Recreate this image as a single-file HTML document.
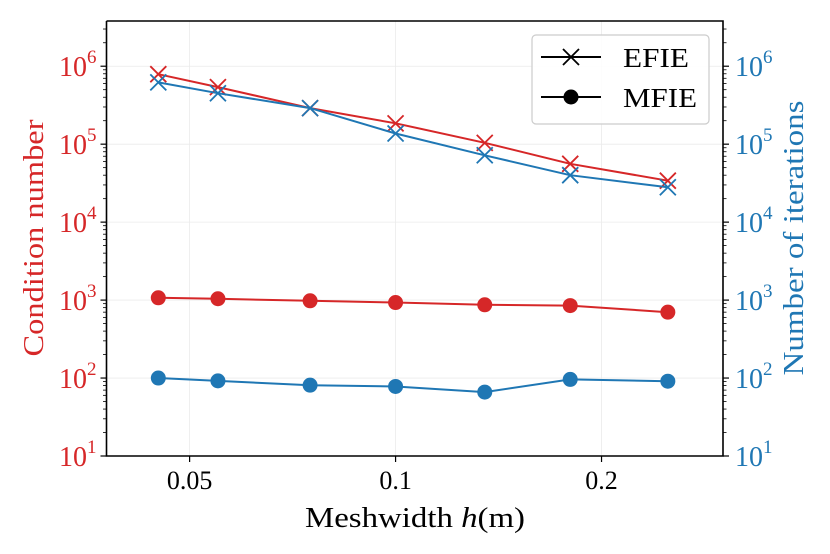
<!DOCTYPE html>
<html><head><meta charset="utf-8"><style>
html,body{margin:0;padding:0;background:#fff;}
svg{display:block;font-family:"Liberation Serif","DejaVu Serif",serif;}
</style></head><body>
<svg id="chart" width="830" height="554" viewBox="0 0 830 554" xmlns="http://www.w3.org/2000/svg"></svg>
<script>
const hValues = [0.045, 0.055, 0.075, 0.1, 0.135, 0.18, 0.25];
const condEFIE = [790000, 540000, 290000, 185000, 104000, 56000, 34000];
const iterEFIE = [620000, 450000, 290000, 137000, 72000, 40000, 28000];
const condMFIE = [1070, 1040, 980, 930, 870, 850, 700];
const iterMFIE = [100, 92, 81, 78, 66, 96, 91];
const xTicks = [0.05, 0.1, 0.2];
const xTickLabels = ["0.05", "0.1", "0.2"];
const yExps = [1, 2, 3, 4, 5, 6];

const L = 106.5, R = 723, T = 21, B = 456;
const xMin = Math.log10(0.0378), xMax = Math.log10(0.301);
const yMin = 1, yMax = 6.58;
const RED = "#d62728", BLUE = "#1f77b4";
function X(v){ return L + (Math.log10(v) - xMin) / (xMax - xMin) * (R - L); }
function Y(v){ return B - (Math.log10(v) - yMin) / (yMax - yMin) * (B - T); }
const svg = document.getElementById('chart');
const NS = "http://www.w3.org/2000/svg";
function mk(tag, attrs, parent){
  const e = document.createElementNS(NS, tag);
  for (const k in attrs) e.setAttribute(k, attrs[k]);
  (parent || svg).appendChild(e);
  return e;
}
xTicks.forEach(t => {
  const g = mk('line', {x1:X(t), x2:X(t), y1:T, y2:B, stroke:'#ebebeb', 'stroke-width':0.8});
  
  
});
yExps.forEach(e => {
  const g = mk('line', {x1:L, x2:R, y1:Y(Math.pow(10,e)), y2:Y(Math.pow(10,e)), stroke:'#ebebeb', 'stroke-width':0.8});
  
  
});
function series(vals, color, marker, name){
  const pts = hValues.map((h,i) => X(h).toFixed(1) + ',' + Y(vals[i]).toFixed(1)).join(' ');
  const pl = mk('polyline', {points:pts, fill:'none', stroke:color, 'stroke-width':2});
  
  
  hValues.forEach((h,i) => {
    const cx = X(h), cy = Y(vals[i]);
    let m;
    if (marker === 'x') {
      const s = 8;
      m = mk('path', {d:`M${cx-s},${cy-s}L${cx+s},${cy+s}M${cx-s},${cy+s}L${cx+s},${cy-s}`, stroke:color, 'stroke-width':1.8, fill:'none'});
    } else {
      m = mk('circle', {cx:cx, cy:cy, r:7.5, fill:color});
    }
    
    
  });
}
series(condMFIE, RED, 'o', 'condition-mfie');
series(iterMFIE, BLUE, 'o', 'iterations-mfie');
series(condEFIE, RED, 'x', 'condition-efie');
series(iterEFIE, BLUE, 'x', 'iterations-efie');
const sp = mk('path', {d:`M${L},${T}V${B}H${R}V${T}H${L}`, fill:'none', stroke:'#000', 'stroke-width':1.6});


xTicks.forEach((t,i) => {
  const tk = mk('line', {x1:X(t), x2:X(t), y1:B, y2:B+6, stroke:'#000', 'stroke-width':1.2});
  
  
  const tx = mk('text', {x:X(t), y:B+33, 'text-anchor':'middle', 'font-size':26, fill:'#000'});
  tx.textContent = xTickLabels[i];
  
  
});
[[L,-1,RED],[R,1,BLUE]].forEach(([ax,dir,col]) => {
  for (let e = 1; e <= 6; e++) {
    for (let k = 1; k <= 9; k++) {
      const v = k * Math.pow(10, e);
      if (Math.log10(v) > yMax) break;
      const len = k === 1 ? 6 : 3.5;
      const tk = mk('line', {x1:ax, x2:ax + dir*len, y1:Y(v), y2:Y(v), stroke:'#000', 'stroke-width':k===1?1.2:0.8});
      
      
    }
  }
  yExps.forEach(e => {
    const y = Y(Math.pow(10,e));
    const tx = mk('text', {x: dir<0 ? ax-10 : ax+12, y: y+10, 'text-anchor': dir<0 ? 'end':'start', 'font-size':28, fill:col});
    
    
    tx.appendChild(document.createTextNode('10'));
    const sup = mk('tspan', {dy:-13, 'font-size':19}, tx);
    sup.textContent = e;
  });
});
const xt = mk('text', {x:415, y:527, 'text-anchor':'middle', 'font-size':28, fill:'#000', textLength:220, lengthAdjust:'spacingAndGlyphs'});


xt.innerHTML = 'Meshwidth <tspan font-style="italic">h</tspan>(m)';
const yl = mk('text', {x:0, y:0, transform:'translate(43,238) rotate(-90)', 'text-anchor':'middle', 'font-size':28, fill:RED, textLength:237, lengthAdjust:'spacingAndGlyphs'});
yl.textContent = 'Condition number';


const yr = mk('text', {x:0, y:0, transform:'translate(803,238) rotate(-90)', 'text-anchor':'middle', 'font-size':28, fill:BLUE, textLength:275, lengthAdjust:'spacingAndGlyphs'});
yr.textContent = 'Number of iterations';


const lg = mk('g', {});


mk('rect', {x:532, y:35, width:177, height:89, rx:4, fill:'#fff', 'fill-opacity':0.85, stroke:'#cccccc', 'stroke-width':1.2}, lg);
const e1 = mk('g', {}, lg);


mk('line', {x1:541, x2:601, y1:57, y2:57, stroke:'#000', 'stroke-width':2}, e1);
mk('path', {d:'M563,49L579,65M563,65L579,49', stroke:'#000', 'stroke-width':1.8}, e1);
const t1 = mk('text', {x:623, y:67, 'font-size':27, fill:'#000', textLength:66, lengthAdjust:'spacingAndGlyphs'}, e1); t1.textContent = 'EFIE';
const e2 = mk('g', {}, lg);


mk('line', {x1:541, x2:601, y1:97, y2:97, stroke:'#000', 'stroke-width':2}, e2);
mk('circle', {cx:571, cy:97, r:7.5, fill:'#000'}, e2);
const t2 = mk('text', {x:623, y:107, 'font-size':27, fill:'#000', textLength:74, lengthAdjust:'spacingAndGlyphs'}, e2); t2.textContent = 'MFIE';
</script>
</body></html>
